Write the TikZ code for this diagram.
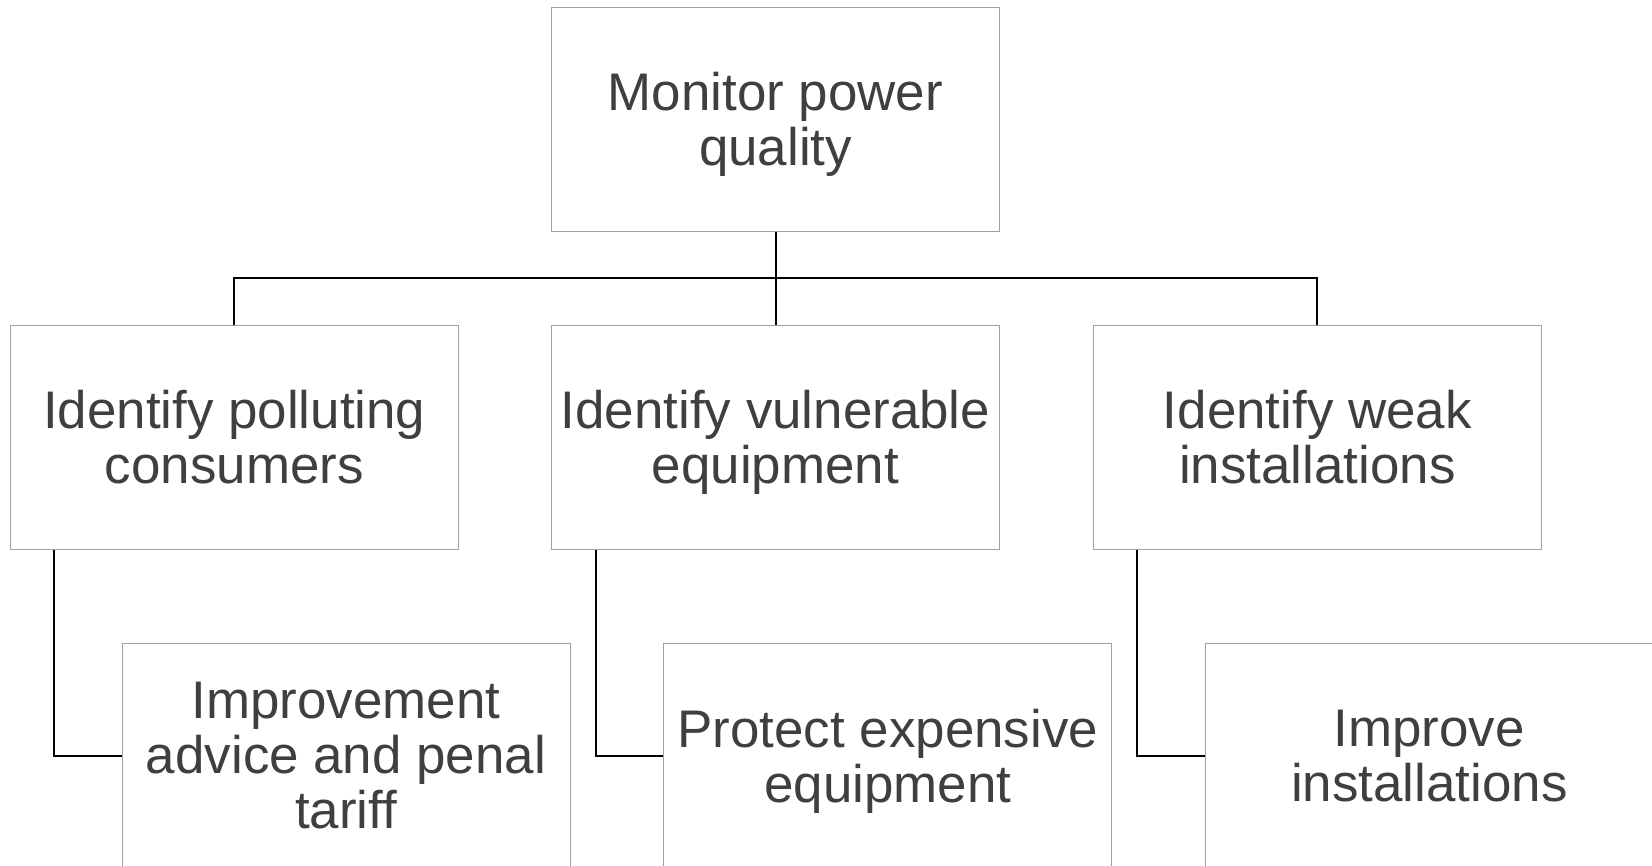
\documentclass[tikz,border=0pt]{standalone}
\usepackage{fontspec}
\setmainfont{Liberation Sans}
\definecolor{txtgray}{HTML}{3F3F3F}
\definecolor{boxgray}{HTML}{A0A0A0}
\begin{document}
\begin{tikzpicture}[x=1pt,y=-1pt,
  box/.style={draw=boxgray,line width=1pt,fill=white,minimum width=448pt,minimum height=224pt,inner sep=0pt,align=center,text depth=0pt,text=txtgray,font=\fontsize{52.9}{55}\selectfont},
  conn/.style={draw=black,line width=2pt}]
\useasboundingbox (0,0) rectangle (1652,865);
\clip (0,0) rectangle (1652,865);
\node[box] (top) at (775.5,119) {Monitor power\\quality};
\node[box] (lbox) at (234.3,437.3) {Identify polluting\\consumers};
\node[box] (mbox) at (775.5,437.3) {Identify vulnerable\\equipment};
\node[box] (rbox) at (1317.3,437.3) {Identify weak\\installations};
\coordinate (bus) at (775.5,278);
\draw[conn] (top.south) -- (bus);
\draw[conn] (lbox.north) |- (bus) -| (rbox.north);
\draw[conn] (bus) -- (mbox.north);
\node[box] (lsub) at (346,755.7) {Improvement\\advice and penal\\tariff};
\node[box] (msub) at (887.8,755.7) {Protect expensive\\equipment};
\node[box] (rsub) at (1429.3,755.7) {Improve\\installations};
\draw[conn] ([xshift=44.5pt]lbox.south west) |- (lsub.west);
\draw[conn] ([xshift=44.5pt]mbox.south west) |- (msub.west);
\draw[conn] ([xshift=44.5pt]rbox.south west) |- (rsub.west);
\end{tikzpicture}
\end{document}
